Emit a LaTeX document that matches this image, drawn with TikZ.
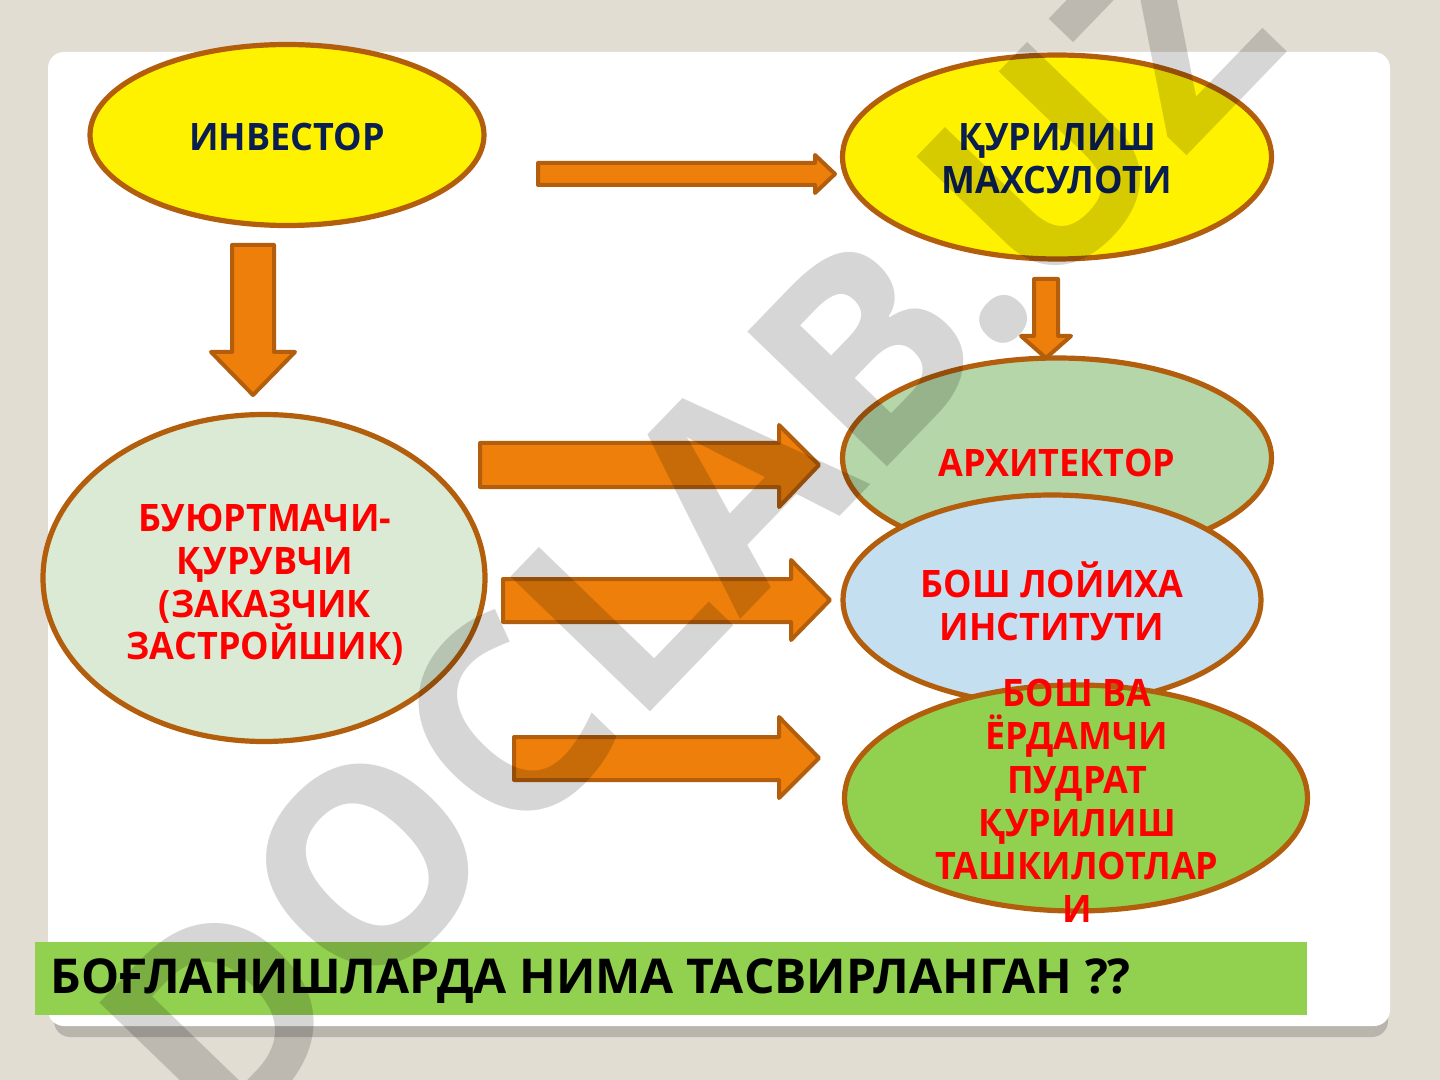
\documentclass[tikz,border=0pt]{standalone}
\usepackage{fontspec}
\setmainfont{Open Sans}
\newfontfamily\slidefont{Open Sans}[FakeStretch = 0.95]
\usepackage{tikz}
\usetikzlibrary{
  shapes.geometric,
  calc
}
\definecolor{pagebg}{RGB}{226,221,211}
\definecolor{edgebrown}{RGB}{178,94,12}
\definecolor{arroworange}{RGB}{238,127,10}
\definecolor{navytext}{RGB}{10,30,80}
\definecolor{clientfill}{RGB}{218,234,212}
\definecolor{archfill}{RGB}{181,214,168}
\definecolor{instfill}{RGB}{196,223,240}
\definecolor{leafgreen}{RGB}{146,208,80}

\begin{document}
\begin{tikzpicture}[x = 0.5pt, y = -0.5pt]
  \tikzset{
    bubble/.style = {ellipse, draw = edgebrown, line width = 2.6pt, inner sep = 0pt},
    bubbletext/.style = {align = center, inner sep = 0pt, font = \slidefont\bfseries\fontsize{18.9}{21.4}\selectfont},
    navy/.style = {bubbletext, text = navytext},
    redtext/.style = {bubbletext, text = red},
    bigarrow/.style = {draw = edgebrown, fill = arroworange, line width = 2pt, line join = round}
  }

  \useasboundingbox (0,0) rectangle (1440,1080);
  \fill[pagebg] (0,0) rectangle (1440,1080);

  % slide card with its shadow
  \fill[black, opacity = 0.18, rounded corners = 8pt] (54,58) rectangle (1388,1037);
  \fill[white, rounded corners = 8pt] (48,52) rectangle (1390,1026);

  % top row
  \node[bubble, fill = yellow, minimum width = 197pt, minimum height = 90.5pt] (investor) at (287,135) {};
  \node[navy] (investortext) at ($(investor)+(0,2)$) {ИНВЕСТОР};
  \node[bubble, fill = yellow, minimum width = 214.5pt, minimum height = 102pt] (product) at (1057,157) {};
  \node[navy] (producttext) at ($(product)+(0,2)$) {ҚУРИЛИШ\\МАХСУЛОТИ};

  \filldraw[bigarrow] (538,163) -- (815,163) -- (815,155) -- (835,174) -- (815,193) -- (815,185) -- (538,185) -- cycle;
  \filldraw[bigarrow] (232,245) -- (274,245) -- (274,352) -- (295,352) -- (253,395) -- (211,352) -- (232,352) -- cycle;
  \filldraw[bigarrow] (1034,279) -- (1058,279) -- (1058,336) -- (1071,336) -- (1046,358) -- (1021,336) -- (1034,336) -- cycle;

  % right column
  \node[bubble, fill = archfill, minimum width = 214.5pt, minimum height = 100pt] (architect) at (1057,458) {};
  \node[redtext] (architecttext) at ($(architect)+(0,5)$) {АРХИТЕКТОР};
  \node[bubble, fill = instfill, minimum width = 209pt, minimum height = 105pt] (institute) at (1052,600) {};
  \node[redtext] (institutetext) at ($(institute)+(0,1)$) {БОШ ЛОЙИХА\\ИНСТИТУТИ};
  \node[bubble, fill = leafgreen, minimum width = 231.5pt, minimum height = 113pt] (contractor) at (1076,798) {};
  \node[redtext, font = \slidefont\bfseries\fontsize{18.9}{21.6}\selectfont] (contractortext) at ($(contractor)+(1,3)$)
    {БОШ ВА\\ЁРДАМЧИ\\ПУДРАТ\\ҚУРИЛИШ\\ТАШКИЛОТЛАР\\И};

  % left ellipse
  \node[bubble, fill = clientfill, minimum width = 221pt, minimum height = 163.5pt] (client) at (264,578) {};
  \node[redtext] (clienttext) at ($(client)+(1,7)$) {БУЮРТМАЧИ-\\ҚУРУВЧИ\\(ЗАКАЗЧИК\ \\ЗАСТРОЙШИК)};

  \filldraw[bigarrow] (480,443) -- (779,443) -- (779,425) -- (819,465) -- (779,507) -- (779,487) -- (480,487) -- cycle;
  \filldraw[bigarrow] (503,579) -- (791,579) -- (791,560) -- (830,600) -- (791,640) -- (791,622) -- (503,622) -- cycle;
  \filldraw[bigarrow] (514,737) -- (779,737) -- (779,717) -- (819,758) -- (779,798) -- (779,780) -- (514,780) -- cycle;

  % question banner
  \fill[leafgreen] (35,942) rectangle (1307,1015);
  \node[anchor = west, inner sep = 0pt, font = \bfseries\fontsize{24}{26}\selectfont] (question) at (50,981)
    {БОҒЛАНИШЛАРДА НИМА ТАСВИРЛАНГАН ??};

  % watermark
  \node[rotate = 46, text = black, text opacity = 0.16, inner sep = 0pt, font = \bfseries\fontsize{136}{136}\selectfont] (mark) at (688,534) {DOCLAB.UZ};
\end{tikzpicture}
\end{document}
